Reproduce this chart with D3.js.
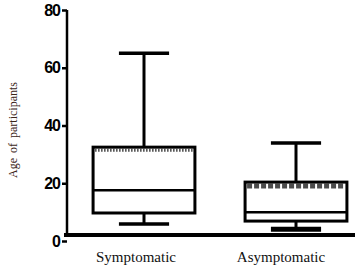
<!DOCTYPE html>
<html lang="en">
<head>
<meta charset="utf-8">
<title>Age of participants</title>
<script src="https://d3js.org/d3.v7.min.js"></script>
<style>
  body { margin: 0; background: #fff; }
  svg { display: block; }
</style>
</head>
<body>
<div class="chart"></div>
<script type="text/javascript">

var width = 355;
var height = 267;

// box plot values
var groups = ["Symptomatic", "Asymptomatic"];
var mins = [5.9, 4.1];
var q1s = [9.7, 6.9];
var medians = [17.6, 10];
var q3s = [32.5, 20.4];
var maxs = [65, 33.9];
var yTicks = [0, 20, 40, 60, 80];

var svg = d3.select(".chart")
  .append("svg")
  .attr("width", width)
  .attr("height", height);

var y = d3.scaleLinear().domain([0, 80]).range([241, 10]);
var x = d3.scaleBand().domain(groups).range([68, 372]);
// labels sit a bit left of the boxes in the original
var xLab = d3.scalePoint().domain(groups).range([136, 281]);

var boxW = x.bandwidth() * 0.67;
var capW = x.bandwidth() * 0.33;

// y axis
var yAxis = d3.axisLeft(y)
  .tickValues(yTicks)
  .tickSize(5)
  .tickSizeOuter(0);

var ay = svg.append("g")
  .attr("transform", "translate(67,0)")
  .call(yAxis);
ay.select(".domain").attr("stroke", "#000").attr("stroke-width", 2.5)
  .attr("d", "M0," + y(80) + "V" + 236);
ay.selectAll(".tick line").attr("stroke", "#000").attr("stroke-width", 2.5);
ay.selectAll(".tick text")
  .attr("x", -7)
  .attr("fill", "#000")
  .style("font-family", "Liberation Sans, Arial, sans-serif")
  .style("font-size", "16px")
  .style("font-weight", "bold")
  .style("letter-spacing", "-1px");

// x axis thick line
svg.append("line")
  .attr("x1", 64).attr("x2", width)
  .attr("y1", 235).attr("y2", 235)
  .attr("stroke", "#000")
  .attr("stroke-width", 4);

var data = groups.map(function(g, i) {
  return { name: g, min: mins[i], q1: q1s[i], med: medians[i], q3: q3s[i], max: maxs[i] };
});

var box = svg.selectAll(".box")
  .data(data)
  .enter()
  .append("g")
  .attr("class", "box")
  .attr("transform", function(d) { return "translate(" + (x(d.name) + x.bandwidth() / 2) + ",0)"; });

// whiskers
box.append("line")
  .attr("x1", 0).attr("x2", 0)
  .attr("y1", function(d) { return y(d.max); })
  .attr("y2", function(d) { return y(d.q3); })
  .attr("stroke", "#000").attr("stroke-width", 3);
box.append("line")
  .attr("x1", 0).attr("x2", 0)
  .attr("y1", function(d) { return y(d.q1); })
  .attr("y2", function(d) { return y(d.min); })
  .attr("stroke", "#000").attr("stroke-width", 3);

// caps
box.append("line")
  .attr("x1", -capW / 2).attr("x2", capW / 2)
  .attr("y1", function(d) { return y(d.max); })
  .attr("y2", function(d) { return y(d.max); })
  .attr("stroke", "#000").attr("stroke-width", 3.5);
box.append("line")
  .attr("x1", -capW / 2).attr("x2", capW / 2)
  .attr("y1", function(d) { return y(d.min); })
  .attr("y2", function(d) { return y(d.min); })
  .attr("stroke", "#000").attr("stroke-width", function(d, i) { return i == 1 ? 5 : 3.5; });

// box
box.append("rect")
  .attr("x", -boxW / 2)
  .attr("width", boxW)
  .attr("y", function(d) { return y(d.q3); })
  .attr("height", function(d) { return y(d.q1) - y(d.q3); })
  .attr("fill", "#fff")
  .attr("stroke", "#000")
  .attr("stroke-width", 3);

// comb-like dotted line under the box top
box.append("line")
  .attr("x1", -boxW / 2 + 2).attr("x2", boxW / 2 - 2)
  .attr("y1", function(d, i) { return y(d.q3) + (i == 1 ? 4 : 3); })
  .attr("y2", function(d, i) { return y(d.q3) + (i == 1 ? 4 : 3); })
  .attr("stroke", "#000")
  .attr("stroke-width", function(d, i) { return i == 1 ? 5 : 3; })
  .attr("stroke-dasharray", function(d, i) { return i == 1 ? "5,2" : "1.5,1.5"; })
  .attr("opacity", 0.7);

// median
box.append("line")
  .attr("x1", -boxW / 2).attr("x2", boxW / 2)
  .attr("y1", function(d) { return y(d.med); })
  .attr("y2", function(d) { return y(d.med); })
  .attr("stroke", "#000").attr("stroke-width", 2.5);

// category labels
svg.selectAll(".xlabel")
  .data(groups)
  .enter()
  .append("text")
  .attr("class", "xlabel")
  .attr("x", function(d) { return xLab(d); })
  .attr("y", 262)
  .attr("text-anchor", "middle")
  .style("font-family", "Liberation Serif, Times New Roman, serif")
  .style("font-size", "15px")
  .attr("fill", "#111")
  .text(function(d) { return d; });

// y axis title
svg.append("text")
  .attr("transform", "translate(17,130) rotate(-90)")
  .attr("text-anchor", "middle")
  .style("font-family", "Liberation Serif, Times New Roman, serif")
  .style("font-size", "12px")
  .style("word-spacing", "2px")
  .attr("fill", "#3a2418")
  .text("Age of participants");

</script>
</body>
</html>
